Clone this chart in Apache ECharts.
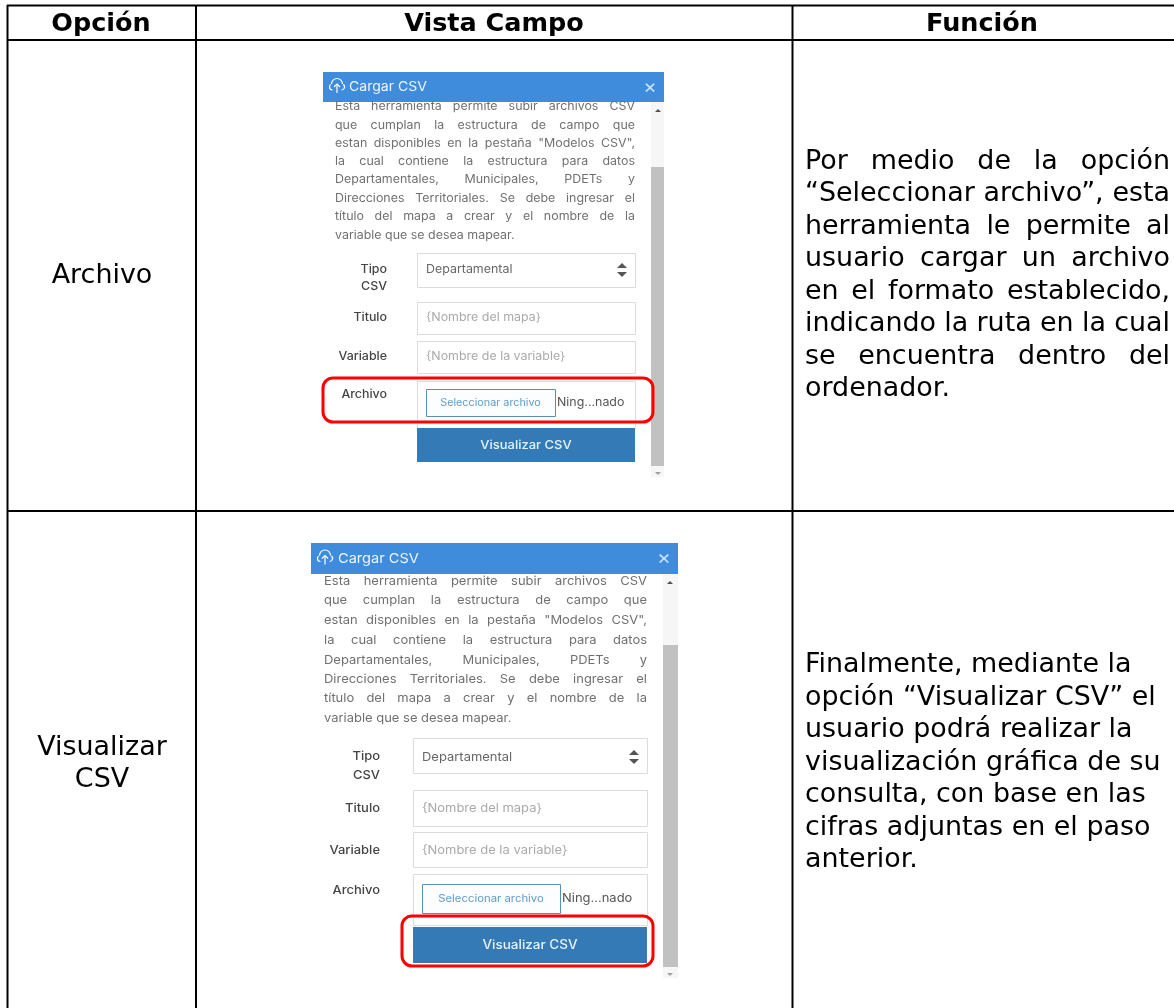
<!DOCTYPE html>
<html><head><meta charset="utf-8">
<style>html,body{margin:0;padding:0;background:#fff}#c{width:1174px;height:1008px}</style>
<script src="https://cdn.jsdelivr.net/npm/echarts@6/dist/echarts.min.js"></script>
</head><body><div id="c"></div>
<script>
const headers = ['Opción','Vista Campo','Función'];
const options = [['Archivo'],['Visualizar','CSV']];
const func1 = ['Por medio de la opción','“Seleccionar archivo”, esta','herramienta le permite al','usuario cargar un archivo','en el formato establecido,','indicando la ruta en la cual','se encuentra dentro del','ordenador.'];
const func2 = ['Finalmente, mediante la','opción “Visualizar CSV” el','usuario podrá realizar la','visualización gráfica de su','consulta, con base en las','cifras adjuntas en el paso','anterior.'];
const help = ['Esta herramienta permite subir archivos CSV','que cumplan la estructura de campo que','estan disponibles en la pestaña "Modelos CSV",','la cual contiene la estructura para datos','Departamentales, Municipales, PDETs y','Direcciones Territoriales. Se debe ingresar el','título del mapa a crear y el nombre de la','variable que se desea mapear.'];
const MAIN = '"DejaVu Sans"', UI = 'Inter';
const FS = 26, SX = 1.035, UX = 1.08;
const ctx = document.createElement('canvas').getContext('2d');
const g = [];
function rect(x,y,w,h,fill,stroke,lw,r){g.push({type:'rect',shape:{x,y,width:w,height:h,r:r||0},style:{fill:fill||'none',stroke:stroke||'none',lineWidth:lw||0}});}
function text(x,y,s,size,color,align,weight,family,sx){const el={type:'text',x,y,style:{text:s,font:(weight||'normal')+' '+size+'px '+(family||MAIN),fill:color,align:align||'left',verticalAlign:'middle'}};if(sx)el.scaleX=sx;g.push(el);}
function ui(x,y,s,size,color,align,weight){text(x,y,s,size,color,align,weight,UI,UX);}
function just(x0,x1,y,s,size,color,family,sx){
  sx=sx||1;
  const words=s.split(' ');ctx.font='normal '+size+'px '+family;
  const tot=words.reduce((a,w)=>a+ctx.measureText(w).width*sx,0);
  const gap=(x1-x0-tot)/(words.length-1);let x=x0;
  words.forEach(w=>{text(x,y,w,size,color,'left','normal',family,sx);x+=ctx.measureText(w).width*sx+gap;});
}
function line(x1,y1,x2,y2){g.push({type:'line',shape:{x1,y1,x2,y2},style:{stroke:'#000',lineWidth:2}});}
[5.5,40,511].forEach(y=>line(7,y,1174,y));
[7.5,196,792.5].forEach(x=>line(x,5,x,1008));
[[101,0],[494,1],[982,2]].forEach(([x,i])=>text(x,24.5,headers[i],25.5,'#000','center','bold'));
text(102,276,options[0][0],FS,'#000','center','normal',MAIN,SX);
text(102,748,options[1][0],FS,'#000','center','normal',MAIN,SX);
text(102,780.5,options[1][1],FS,'#000','center','normal',MAIN,SX);
const LH=32.5;
func1.forEach((s,i)=>{const y=162+i*LH; if(i<func1.length-1) just(805,1170,y,s,FS,'#000',MAIN,SX); else text(805,y,s,FS,'#000','left','normal',MAIN,SX);});
func2.forEach((s,i)=>text(805,665.5+i*LH,s,FS,'#000','left','normal',MAIN,SX));
function panel(p){
  rect(p.x0,p.hTop,p.x1-p.x0,p.hBot-p.hTop,'#3f8cdd');
  rect(p.sbX,p.hBot,p.x1-p.sbX,p.sbBot-p.hBot,'#f6f6f6');
  rect(p.sbX,p.thumbTop,p.x1-p.sbX,p.thumbBot-p.thumbTop,'#c1c1c1');
  const ix=p.iconX, cy=(p.hTop+p.hBot)/2-1, st={fill:'none',stroke:'#fff',lineWidth:1.2};
  g.push({type:'arc',shape:{cx:ix+8,cy:cy-2,r:5.5,startAngle:Math.PI*1.0,endAngle:Math.PI*2.0},style:st});
  g.push({type:'arc',shape:{cx:ix+3.5,cy:cy+1,r:3,startAngle:Math.PI*0.5,endAngle:Math.PI*1.3},style:st});
  g.push({type:'arc',shape:{cx:ix+12.5,cy:cy+1,r:3,startAngle:Math.PI*1.7,endAngle:Math.PI*0.5},style:st});
  g.push({type:'polyline',shape:{points:[[ix+8,cy+7],[ix+8,cy-2]]},style:st});
  g.push({type:'polyline',shape:{points:[[ix+5,cy+1],[ix+8,cy-2],[ix+11,cy+1]]},style:st});
  ui(p.iconX+p.iconS+4,cy+1,'Cargar CSV',p.titleFs,'#eef5fc','left','normal');
  ui(p.x1-14,cy+1,'×',p.titleFs+6,'#cfe3f7','center','normal');
  g.push({type:'polygon',shape:{points:[[p.sbX+4,p.hBot+10],[p.sbX+10,p.hBot+10],[p.sbX+7,p.hBot+7]]},style:{fill:'#505050'}});
  g.push({type:'polygon',shape:{points:[[p.sbX+4,p.sbBot-5],[p.sbX+10,p.sbBot-5],[p.sbX+7,p.sbBot-2]]},style:{fill:'#a0a0a0'}});
  help.forEach((s,i)=>{ if(i<help.length-1) just(p.tx0,p.tx1,p.ty[i],s,p.fs,'#707070',UI,UX); else ui(p.tx0,p.ty[i],s,p.fs,'#707070','left','normal');});
  p.boxes.forEach(b=>rect(p.bx0+.5,b[0]+.5,p.tx1-p.bx0,b[1]-b[0],'#fff','#dcdcdc',1));
  ui(p.lx,p.ly[0],'Tipo',p.fs,'#444','right','500');
  ui(p.lx,p.ly[1],'CSV',p.fs,'#444','right','500');
  ui(p.lx,p.ly[2],'Titulo',p.fs,'#444','right','500');
  ui(p.lx,p.ly[3],'Variable',p.fs,'#444','right','500');
  ui(p.lx,p.ly[4],'Archivo',p.fs,'#444','right','500');
  const tX=p.bx0+9;
  ui(tX,p.vy[0],'Departamental',p.fs,'#666','left','normal');
  g.push({type:'polygon',shape:{points:[[p.tx1-18,p.vy[0]-2],[p.tx1-8,p.vy[0]-2],[p.tx1-13,p.vy[0]-7]]},style:{fill:'#555'}});
  g.push({type:'polygon',shape:{points:[[p.tx1-18,p.vy[0]+2],[p.tx1-8,p.vy[0]+2],[p.tx1-13,p.vy[0]+7]]},style:{fill:'#555'}});
  ui(tX,p.vy[1],'{Nombre del mapa}',p.fs,'#aaa','left','normal');
  ui(tX,p.vy[2],'{Nombre de la variable}',p.fs,'#aaa','left','normal');
  rect(p.sel[0]+.5,p.sel[1]+.5,p.sel[2],p.sel[3],'#fbfdff','#5a8fb5',1);
  ui(p.sel[0]+p.sel[2]/2,p.sel[1]+p.sel[3]/2,'Seleccionar archivo',p.fs-1.5,'#5f9ccb','center','normal');
  ui(p.sel[0]+p.sel[2]+2,p.sel[1]+p.sel[3]/2,'Ning...nado',p.fs,'#555','left','normal');
  rect(p.bx0,p.btn[0],p.tx1-p.bx0,p.btn[1]-p.btn[0],'#337ab7');
  ui((p.bx0+p.tx1)/2,(p.btn[0]+p.btn[1])/2,'Visualizar CSV',p.fs+.5,'#e8f2fa','center','500');
}
panel({x0:323,x1:664,hTop:72,hBot:102,sbX:651,sbBot:477,thumbTop:167,thumbBot:466,iconX:329,iconS:16,titleFs:13,
  tx0:335,tx1:635,bx0:417,fs:11.5,lx:387,
  ty:[107,125.5,143.5,162,180,199,217,235.5],
  boxes:[[253,287],[302,334],[341,373],[381,428]],
  ly:[270,287,318,357,395],vy:[270,318,357],
  sel:[426,389,129,27],btn:[428,462]});
panel({x0:311,x1:678,hTop:543,hBot:574,sbX:663,sbBot:978,thumbTop:645,thumbBot:967,iconX:317,iconS:17,titleFs:13.5,
  tx0:324,tx1:647,bx0:413,fs:12,lx:380,
  ty:[581,600.5,620,640,660,679,698,718],
  boxes:[[738,773],[790,826],[832,867],[874,925]],
  ly:[756,775,808,850,890],vy:[757,808,850],
  sel:[422,884,138,29],btn:[927,963]});
const red=(x0,y0,x1,y1)=>rect(x0,y0,x1-x0,y1-y0,'none','#ff0000',3,10);
red(323,378,653,422);
red(402,916,653,966);
const chart=echarts.init(document.getElementById('c'),null,{renderer:'canvas'});
chart.setOption({animation:false,backgroundColor:'#fff',graphic:{elements:g.map(e=>Object.assign(e,{silent:true}))}});
</script></body></html>
